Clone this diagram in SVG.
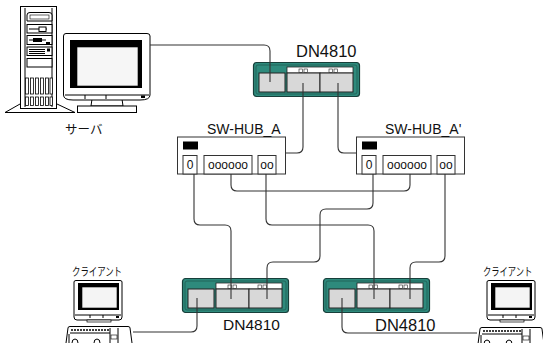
<svg xmlns="http://www.w3.org/2000/svg" xmlns:xlink="http://www.w3.org/1999/xlink" width="543" height="343" viewBox="0 0 543 343">
<style>
.ln{fill:none;stroke:#333;stroke-width:1.1}
.bk{fill:none;stroke:#000;stroke-width:1}
.wf{fill:#fff;stroke:#000;stroke-width:1}
.lbl{font-family:"Liberation Sans",Arial,sans-serif;fill:#111}
.jp{font-family:"Noto Sans CJK JP","Noto Sans",sans-serif;fill:#111}
.port{fill:#fff;stroke:#333;stroke-width:1}
.pt{font-family:"Liberation Sans",Arial,sans-serif;font-size:12px;fill:#111}
</style>
<defs>
<g id="dn">
<rect x="0.5" y="0.5" width="106" height="34" rx="3" fill="#2e8a7c" stroke="#173f3a" stroke-width="1.2"/>
<rect x="3" y="3" width="101" height="29" rx="2" fill="none" stroke="#1f5a52" stroke-width="0.8"/>
<rect x="34" y="5" width="66" height="6" fill="#fff" stroke="#222" stroke-width="0.8"/>
<rect x="46" y="7" width="3.5" height="3.5" fill="#fff" stroke="#222" stroke-width="0.6"/>
<rect x="51" y="7" width="3.5" height="3.5" fill="#fff" stroke="#222" stroke-width="0.6"/>
<rect x="76" y="7" width="3.5" height="3.5" fill="#fff" stroke="#222" stroke-width="0.6"/>
<rect x="81" y="7" width="3.5" height="3.5" fill="#fff" stroke="#222" stroke-width="0.6"/>
<rect x="6" y="11" width="26" height="19" fill="#d8d8d8" stroke="#222" stroke-width="1"/>
<rect x="34" y="11" width="33" height="19" fill="#d8d8d8" stroke="#222" stroke-width="1"/>
<rect x="67" y="11" width="33" height="19" fill="#d8d8d8" stroke="#222" stroke-width="1"/>
</g>
<g id="hub">
<rect x="0.5" y="0.5" width="108" height="37" fill="#fff" stroke="#333"/>
<rect x="6" y="5" width="15" height="8" fill="#000"/>
<rect x="6" y="19" width="14" height="18.5" class="port"/>
<rect x="27" y="19" width="48" height="18.5" class="port"/>
<rect x="81" y="19" width="18" height="18.5" class="port"/>
<text x="13" y="32" class="pt" text-anchor="middle">0</text>
<text x="51" y="32" class="pt" text-anchor="middle">oooooo</text>
<text x="90" y="32" class="pt" text-anchor="middle">oo</text>
</g>
<g id="cmon">
<path d="M1,2 Q1,0.5 3,0.5 L47,0.5 Q49,0.5 49,2 L49,37 Q49,40 46,40 L4,40 Q1,40 1,37 Z" fill="#fff" stroke="#000"/>
<rect x="5" y="3" width="41" height="27" fill="#000"/>
<rect x="9" y="7" width="35" height="21" fill="#f4f4f4" stroke="#000" stroke-width="0.6"/>
<line x1="2" y1="35" x2="48" y2="35" class="bk" stroke-width="0.7"/>
<line x1="17" y1="35" x2="17" y2="38" class="bk" stroke-width="0.6"/>
<line x1="30" y1="35" x2="30" y2="38" class="bk" stroke-width="0.6"/>
<rect x="43" y="36" width="3" height="2" fill="#000"/>
<rect x="14" y="40" width="24" height="2" fill="#fff" stroke="#000" stroke-width="0.7"/>
</g>
<g id="kbd">
<path d="M2,17 L4,2 Q4,0.5 6,0.5 L64,0.5 Q66,0.5 66,2 L68,17" fill="#fff" stroke="#000"/>
<line x1="7" y1="4" x2="46" y2="4" stroke="#000" stroke-width="1.4" stroke-dasharray="2,1"/>
<line x1="6" y1="7" x2="46" y2="7" class="bk" stroke-width="0.6"/>
<line x1="46" y1="2" x2="46" y2="17" class="bk" stroke-width="0.7"/>
<line x1="54" y1="2" x2="54" y2="17" class="bk" stroke-width="0.7"/>
<rect x="47" y="9" width="6" height="4" fill="none" stroke="#000" stroke-width="0.6"/>
<path d="M8,17 Q8,13 11,13 Q14,13 14,17 M30,17 Q30,13 33,13 Q36,13 36,17" class="bk" stroke-width="0.7"/>
<line x1="5" y1="8" x2="5" y2="17" class="bk" stroke-width="0.6"/>
</g>
</defs>

<g id="server">
<polygon points="5,112.5 20,104 57,104 75,112.5" fill="#fff" stroke="#000"/>
<rect x="20.5" y="6.5" width="36" height="102" class="wf"/>
<line x1="25" y1="8" x2="25" y2="107" class="bk" stroke-width="0.7"/>
<line x1="52" y1="8" x2="52" y2="107" class="bk" stroke-width="0.7"/>
<path d="M27,21 L27,15 Q27,12.5 30,12.5 L49,12.5 Q52,12.5 52,15 L52,21 Z" class="wf"/>
<rect x="30" y="15" width="19" height="4" fill="none" stroke="#000" stroke-width="0.6"/>
<rect x="27" y="24.5" width="25" height="8.5" class="wf"/>
<line x1="29" y1="29" x2="47" y2="29" class="bk" stroke-width="0.8"/>
<rect x="39" y="27" width="7" height="4.5" class="wf" stroke-width="0.8"/>
<rect x="27" y="35.5" width="25" height="9" class="wf"/>
<line x1="29" y1="40" x2="46" y2="40" class="bk" stroke-width="0.8"/>
<rect x="33" y="38" width="9" height="4" fill="#000"/>
<rect x="46" y="42" width="4" height="2" fill="#000"/>
<rect x="27" y="47" width="25" height="8.5" class="wf"/>
<line x1="29" y1="49.5" x2="45" y2="49.5" class="bk" stroke-width="0.6"/>
<line x1="29" y1="51.5" x2="45" y2="51.5" class="bk" stroke-width="0.6"/>
<line x1="29" y1="53.5" x2="45" y2="53.5" class="bk" stroke-width="0.6"/>
<rect x="47" y="48.5" width="3" height="3" fill="#000"/>
<rect x="27" y="58.5" width="25" height="8.5" class="wf"/>
<g fill="#fff" stroke="#000" stroke-width="0.8">
<rect x="25.5" y="78" width="3" height="16"/><rect x="30.5" y="78" width="3" height="16"/><rect x="35.5" y="78" width="3" height="16"/><rect x="40.5" y="78" width="3" height="16"/><rect x="45.5" y="78" width="3" height="16"/><rect x="50" y="78" width="2.5" height="16"/>
<rect x="25.5" y="97" width="3" height="8.5"/><rect x="30.5" y="97" width="3" height="8.5"/><rect x="35.5" y="97" width="3" height="8.5"/><rect x="40.5" y="97" width="3" height="8.5"/><rect x="45.5" y="97" width="3" height="8.5"/><rect x="50" y="97" width="2.5" height="8.5"/>
</g>
<polygon points="92,99 122,99 123,106 91,106" fill="#fff" stroke="#000"/>
<rect x="77.5" y="106" width="59" height="6.5" class="wf"/>
<path d="M63.5,36 Q63.5,33.5 66,33.5 L147,33.5 Q150,33.5 150,36 L150,95 Q150,100 140,100 L73,100 Q63.5,100 63.5,95 Z" fill="#fff" stroke="#000"/>
<rect x="70" y="40" width="72" height="48" fill="#000"/>
<rect x="77" y="47" width="61" height="39" fill="#f6f6f6" stroke="#000" stroke-width="0.6"/>
<line x1="65" y1="95" x2="149" y2="95" class="bk" stroke-width="0.7"/>
<line x1="85" y1="95" x2="85" y2="99" class="bk" stroke-width="0.6"/>
<line x1="106" y1="95" x2="106" y2="99" class="bk" stroke-width="0.6"/>
<rect x="141" y="95.5" width="4" height="2.5" fill="#000"/>
<text x="65" y="134" class="jp" font-size="12.5">サーバ</text>
</g>

<g id="dn-top">
<use xlink:href="#dn" x="253" y="62"/>
<text x="296" y="57" class="lbl" font-size="16.5">DN4810</text>
</g>
<g id="hub-a">
<use xlink:href="#hub" x="177" y="136.5"/>
<text x="207" y="134" class="lbl" font-size="14">SW-HUB_A</text>
</g>
<g id="hub-a2">
<use xlink:href="#hub" x="356" y="136.5"/>
<text x="385" y="134" class="lbl" font-size="14">SW-HUB_A'</text>
</g>
<g id="dn-left">
<use xlink:href="#dn" x="182" y="278"/>
<text x="223" y="330" class="lbl" font-size="15.5">DN4810</text>
</g>
<g id="dn-right">
<use xlink:href="#dn" x="323" y="278"/>
<text x="375" y="331" class="lbl" font-size="16.5">DN4810</text>
</g>
<g id="client-left">
<use xlink:href="#cmon" x="73" y="280"/>
<use xlink:href="#kbd" x="64" y="326"/>
<text transform="translate(72,276) scale(0.73,1)" x="0" y="0" class="jp" font-size="11.5">クライアント</text>
</g>
<g id="client-right">
<use xlink:href="#cmon" x="486" y="280"/>
<use xlink:href="#kbd" x="476" y="327"/>
<text transform="translate(483,276) scale(0.72,1)" x="0" y="0" class="jp" font-size="11.5">クライアント</text>
</g>

<g id="connectors">
<path class="ln" d="M150,45 H264 Q270,45 270,51 V82"/>
<path class="ln" d="M285.5,153 H297 Q303,153 303,147 V83"/>
<path class="ln" d="M356,153 H344 Q338,153 338,147 V83"/>
<path class="ln" d="M194,174 V219 Q194,225 200,225 H225 Q231,225 231,231 V299"/>
<path class="ln" d="M231,174 V185 Q231,191 237,191 H404 Q410,191 410,185 V174"/>
<path class="ln" d="M266,174 V219 Q266,225 272,225 H368 Q374,225 374,231 V299"/>
<path class="ln" d="M373,174 V203 Q373,209 367,209 H326 Q320,209 320,215 V256 Q320,262 314,262 H273 Q267,262 267,268 V299"/>
<path class="ln" d="M445,174 V256 Q445,262 439,262 H416 Q410,262 410,268 V299"/>
<path class="ln" d="M197,298 V326 Q197,332 191,332 H133"/>
<path class="ln" d="M342,298 V327 Q342,333 348,333 H477"/>
</g>
</svg>
